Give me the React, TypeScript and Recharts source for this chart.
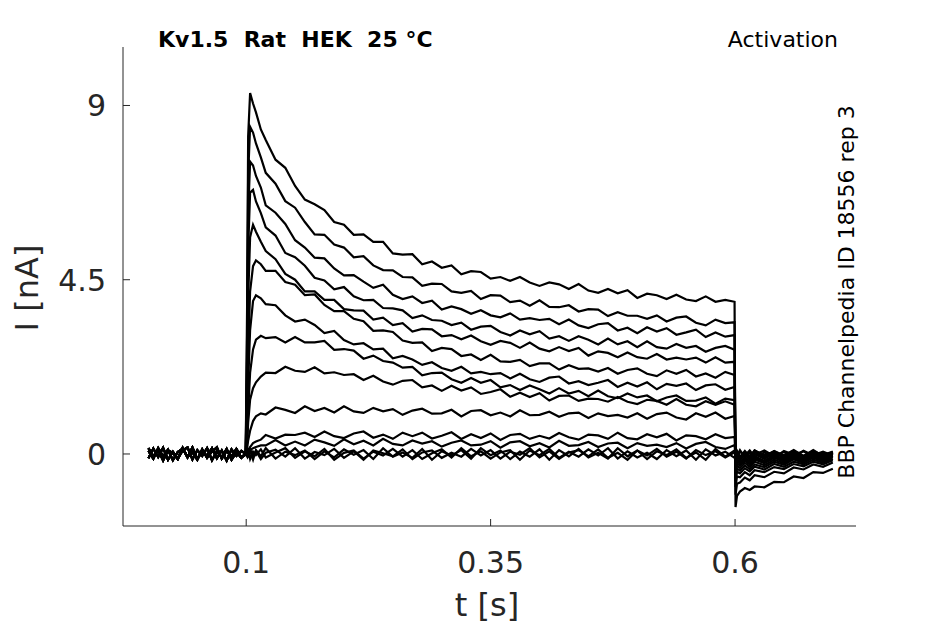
import { LineChart, Line, XAxis, YAxis } from 'recharts';

// time grids (s)
const preTimes = [0, 0.005, 0.01, 0.015, 0.02, 0.025, 0.03, 0.035, 0.04, 0.045, 0.05, 0.055, 0.06, 0.065, 0.07, 0.075, 0.08, 0.085, 0.09, 0.095, 0.0995];
const pulseTimes = [
  0.101, 0.102, 0.104, 0.107, 0.11, 0.115,
  0.12, 0.13, 0.14, 0.15, 0.16, 0.17, 0.18, 0.19, 0.2, 0.21,
  0.22, 0.23, 0.24, 0.25, 0.26, 0.27, 0.28, 0.29, 0.3, 0.31,
  0.32, 0.33, 0.34, 0.35, 0.36, 0.37, 0.38, 0.39, 0.4, 0.41,
  0.42, 0.43, 0.44, 0.45, 0.46, 0.47, 0.48, 0.49, 0.5, 0.51,
  0.52, 0.53, 0.54, 0.55, 0.56, 0.57, 0.58, 0.59, 0.5995,
];
const tailTimes = [0.6005, 0.602, 0.605, 0.61, 0.615, 0.62, 0.63, 0.64, 0.65, 0.66, 0.67, 0.68, 0.69, 0.7];

const xTicks = [0.1, 0.35, 0.6];
const yTicks = [0, 4.5, 9];

// holding current before the step (nA)
const preA = [0.08, -0.12, 0.15, -0.06, 0.11, -0.16, 0.05, 0.14, -0.09, 0.17, -0.13, 0.06, -0.04, 0.15, -0.11, 0.09, -0.17, 0.12, -0.05, 0.08, 0.0];
const preB = [-0.11, 0.14, -0.08, 0.16, -0.15, 0.06, -0.12, 0.09, 0.17, -0.14, 0.1, -0.05, 0.15, -0.16, 0.07, -0.09, 0.13, -0.15, 0.05, -0.1, 0.02];
const preC = [0.15, -0.06, 0.1, -0.17, 0.09, 0.03, -0.13, 0.16, -0.08, 0.05, -0.15, 0.12, -0.1, 0.06, 0.17, -0.12, 0.08, -0.06, 0.13, -0.09, -0.01];

// currents during the step (nA)
const pulse1 = [4.0, 8.2, 9.32, 9.05, 8.82, 8.38,
  8.11, 7.6, 7.39, 6.92, 6.57, 6.45, 6.3, 5.99, 5.92, 5.66, 5.67, 5.48, 5.48, 5.18, 5.15, 5.16, 4.9, 4.97, 4.81, 4.87,
  4.64, 4.72, 4.7, 4.53, 4.57, 4.47, 4.57, 4.43, 4.34, 4.43, 4.38, 4.26, 4.39, 4.22, 4.16, 4.26, 4.15, 4.23, 4.03, 4.14,
  4.1, 4.0, 4.11, 3.99, 3.95, 4.07, 3.93, 3.98, 3.93];
const pulse2 = [3.2, 7.2, 8.45, 8.3, 8.02, 7.66,
  7.26, 6.98, 6.53, 6.36, 5.99, 5.67, 5.66, 5.41, 5.33, 5.08, 5.11, 4.87, 4.75, 4.74, 4.57, 4.56, 4.34, 4.4, 4.39, 4.2,
  4.16, 4.21, 4.0, 4.1, 4.09, 3.92, 3.96, 3.83, 3.97, 3.8, 3.79, 3.84, 3.68, 3.74, 3.73, 3.56, 3.66, 3.57, 3.57, 3.49,
  3.58, 3.42, 3.52, 3.55, 3.39, 3.32, 3.47, 3.38, 3.4];
const pulse3 = [2.6, 6.2, 7.55, 7.45, 7.18, 6.88,
  6.42, 6.23, 5.94, 5.52, 5.33, 5.07, 5.05, 4.79, 4.61, 4.62, 4.45, 4.29, 4.37, 4.11, 4.0, 4.07, 3.9, 3.96, 3.73, 3.81,
  3.74, 3.62, 3.71, 3.58, 3.53, 3.63, 3.47, 3.51, 3.46, 3.49, 3.35, 3.47, 3.32, 3.25, 3.35, 3.38, 3.19, 3.26, 3.12, 3.27,
  3.16, 3.25, 3.08, 3.14, 3.21, 3.02, 3.14, 3.03, 3.07];
const pulse4 = [2.0, 5.3, 6.75, 6.82, 6.52, 6.22,
  5.85, 5.64, 5.19, 5.08, 4.86, 4.55, 4.48, 4.25, 4.31, 4.07, 3.97, 3.98, 3.77, 3.76, 3.71, 3.51, 3.58, 3.46, 3.44, 3.33,
  3.39, 3.21, 3.29, 3.31, 3.15, 3.06, 3.19, 3.09, 3.17, 2.98, 3.04, 2.92, 3.04, 2.95, 2.83, 2.98, 2.83, 2.91, 2.76, 2.91,
  2.76, 2.72, 2.84, 2.74, 2.79, 2.64, 2.74, 2.79, 2.69];
const pulse5 = [1.4, 4.0, 5.6, 5.92, 5.74, 5.48,
  5.24, 5.03, 4.65, 4.5, 4.2, 4.2, 3.98, 3.98, 3.74, 3.71, 3.7, 3.47, 3.52, 3.33, 3.38, 3.16, 3.23, 3.22, 3.04, 3.07,
  2.96, 3.06, 2.91, 2.82, 2.92, 2.87, 2.74, 2.88, 2.72, 2.65, 2.76, 2.66, 2.74, 2.54, 2.65, 2.61, 2.5, 2.62, 2.5, 2.46,
  2.58, 2.44, 2.49, 2.44, 2.49, 2.36, 2.5, 2.36, 2.38];
const pulse6 = [0.9, 2.6, 4.2, 4.85, 5.0, 4.9,
  4.73, 4.73, 4.44, 4.37, 4.1, 4.12, 3.85, 3.69, 3.69, 3.49, 3.43, 3.18, 3.19, 3.15, 2.93, 2.87, 2.88, 2.66, 2.74, 2.71,
  2.53, 2.57, 2.43, 2.56, 2.39, 2.38, 2.43, 2.27, 2.34, 2.34, 2.18, 2.29, 2.2, 2.21, 2.13, 2.22, 2.07, 2.17, 2.21, 2.07,
  2.01, 2.16, 2.07, 2.17, 2.0, 2.08, 1.97, 2.12, 2.04];
const pulse7 = [0.6, 1.8, 3.2, 3.95, 4.1, 4.02,
  3.87, 3.84, 3.58, 3.42, 3.47, 3.33, 3.12, 3.18, 2.94, 2.83, 2.86, 2.7, 2.72, 2.47, 2.53, 2.44, 2.3, 2.37, 2.22, 2.15,
  2.25, 2.08, 2.12, 2.06, 2.09, 1.95, 2.07, 1.93, 1.86, 1.97, 2.0, 1.82, 1.88, 1.78, 1.84, 1.91, 1.73, 1.84, 1.74, 1.85,
  1.67, 1.81, 1.76, 1.82, 1.65, 1.77, 1.8, 1.66, 1.73];
const pulse8 = [0.4, 1.1, 2.1, 2.7, 2.95, 3.05,
  2.99, 3.02, 2.88, 3.02, 2.88, 2.88, 2.92, 2.69, 2.71, 2.67, 2.46, 2.54, 2.4, 2.36, 2.23, 2.25, 2.03, 2.09, 2.1, 1.93,
  1.84, 1.96, 1.84, 1.91, 1.72, 1.78, 1.65, 1.77, 1.67, 1.56, 1.7, 1.56, 1.63, 1.49, 1.64, 1.49, 1.44, 1.56, 1.46, 1.51,
  1.36, 1.46, 1.51, 1.37, 1.38, 1.46, 1.3, 1.43, 1.39];
const pulse9 = [0.3, 0.8, 1.4, 1.7, 1.85, 2.0,
  2.1, 2.09, 2.25, 2.15, 2.12, 2.24, 2.08, 2.11, 2.04, 2.06, 1.91, 2.02, 1.87, 1.79, 1.89, 1.91, 1.72, 1.77, 1.63, 1.76,
  1.64, 1.72, 1.55, 1.6, 1.67, 1.48, 1.58, 1.47, 1.57, 1.38, 1.5, 1.51, 1.37, 1.43, 1.42, 1.35, 1.47, 1.35, 1.29, 1.4,
  1.37, 1.27, 1.42, 1.27, 1.23, 1.36, 1.27, 1.36, 1.27];
const pulse10 = [0.15, 0.35, 0.6, 0.85, 0.97, 1.05,
  1.02, 1.2, 1.14, 1.06, 1.23, 1.11, 1.19, 1.07, 1.23, 1.1, 1.06, 1.19, 1.1, 1.16, 1.01, 1.12, 1.17, 1.04, 1.05, 1.14,
  0.97, 1.11, 1.13, 1.0, 1.07, 0.97, 1.13, 1.0, 1.01, 1.09, 0.96, 1.05, 1.07, 0.93, 1.05, 0.98, 1.01, 0.94, 1.05, 0.91,
  1.03, 1.07, 0.94, 0.89, 1.05, 0.96, 1.07, 0.91, 0.98];
const pulse11 = [0.05, 0.1, 0.18, 0.28, 0.32, 0.37,
  0.49, 0.4, 0.5, 0.49, 0.55, 0.44, 0.58, 0.46, 0.41, 0.53, 0.58, 0.42, 0.5, 0.39, 0.55, 0.46, 0.55, 0.4, 0.47, 0.56,
  0.39, 0.51, 0.41, 0.53, 0.36, 0.49, 0.52, 0.39, 0.47, 0.4, 0.54, 0.43, 0.37, 0.5, 0.48, 0.39, 0.55, 0.41, 0.38, 0.51,
  0.43, 0.52, 0.35, 0.48, 0.46, 0.38, 0.51, 0.41, 0.44];
const pulse12 = [0.02, 0.05, 0.1, 0.15, 0.18, 0.22,
  0.22, 0.36, 0.22, 0.32, 0.22, 0.37, 0.3, 0.21, 0.38, 0.25, 0.34, 0.22, 0.39, 0.26, 0.22, 0.35, 0.27, 0.33, 0.19, 0.29,
  0.35, 0.22, 0.24, 0.33, 0.16, 0.3, 0.33, 0.2, 0.28, 0.17, 0.34, 0.21, 0.23, 0.31, 0.18, 0.27, 0.29, 0.15, 0.28, 0.21,
  0.24, 0.18, 0.28, 0.14, 0.26, 0.31, 0.18, 0.13, 0.23];
const pulseBase1 = [0.06, -0.09, 0.12, -0.04, 0.08, -0.13, 0.03, 0.11, -0.07, 0.15, -0.12, 0.05, -0.03, 0.13, -0.1, 0.07,
  -0.15, 0.09, 0.02, -0.06, 0.12, -0.13, 0.04, 0.09, -0.1, 0.03, -0.07, 0.13, -0.04, 0.1, -0.12, 0.06, -0.02, 0.15, -0.09,
  0.07, -0.13, 0.04, 0.1, -0.06, 0.12, -0.1, 0.03, -0.15, 0.09, -0.04, 0.13, -0.07, 0.06, -0.12, 0.1, -0.03, 0.07, -0.09, 0.04];
const pulseBase2 = [-0.07, 0.1, -0.13, 0.06, -0.03, 0.12, -0.09, 0.04, 0.15, -0.1, 0.07, -0.06, 0.13, -0.15, 0.03, 0.09,
  -0.12, 0.06, -0.04, 0.13, -0.07, 0.1, -0.13, 0.02, 0.12, -0.09, 0.15, -0.06, 0.07, -0.12, 0.04, 0.1, -0.15, 0.09, -0.03,
  0.13, -0.1, 0.06, -0.07, 0.12, -0.04, 0.15, -0.12, 0.07, -0.09, 0.03, -0.13, 0.1, -0.06, 0.09, -0.15, 0.12, -0.04, 0.06, -0.1];
const pulseBase3 = [0.13, -0.04, 0.07, -0.15, 0.1, -0.06, 0.15, -0.12, 0.06, -0.03, 0.09, -0.13, 0.07, -0.09, 0.12, -0.02,
  0.1, -0.13, 0.15, -0.07, 0.04, -0.1, 0.13, -0.15, 0.07, -0.04, 0.1, -0.12, 0.15, -0.03, 0.09, -0.13, 0.06, -0.07, 0.12,
  -0.15, 0.1, -0.06, 0.13, -0.09, 0.03, -0.12, 0.15, -0.06, 0.09, -0.13, 0.07, -0.03, 0.12, -0.1, 0.04, -0.15, 0.13, -0.07, 0.09];

// tail currents after the step (nA)
const tail1 = [-1.37, -1.08, -0.97, -0.88, -0.93, -0.84, -0.86, -0.72, -0.73, -0.58, -0.62, -0.47, -0.49, -0.38];
const tail2 = [-1.05, -0.77, -0.74, -0.61, -0.68, -0.55, -0.6, -0.46, -0.5, -0.35, -0.4, -0.27, -0.33, -0.22];
const tail3 = [-0.85, -0.58, -0.6, -0.47, -0.55, -0.42, -0.47, -0.34, -0.39, -0.26, -0.32, -0.2, -0.27, -0.16];
const tail4 = [-0.7, -0.46, -0.5, -0.37, -0.45, -0.33, -0.4, -0.26, -0.33, -0.2, -0.27, -0.15, -0.23, -0.12];
const tail5 = [-0.6, -0.38, -0.43, -0.3, -0.39, -0.27, -0.34, -0.2, -0.28, -0.14, -0.23, -0.1, -0.19, -0.08];
const tail6 = [-0.5, -0.3, -0.36, -0.23, -0.33, -0.2, -0.29, -0.15, -0.24, -0.11, -0.2, -0.07, -0.16, -0.05];
const tail7 = [-0.42, -0.24, -0.3, -0.17, -0.28, -0.14, -0.24, -0.1, -0.2, -0.07, -0.17, -0.04, -0.14, -0.03];
const tail8 = [-0.35, -0.18, -0.25, -0.12, -0.24, -0.1, -0.21, -0.06, -0.18, -0.03, -0.15, 0.0, -0.12, 0.01];
const tail9 = [-0.3, -0.13, -0.22, -0.08, -0.2, -0.06, -0.18, -0.02, -0.15, 0.01, -0.13, 0.02, -0.1, 0.03];
const tail10 = [-0.2, -0.06, -0.16, -0.02, -0.15, 0.0, -0.13, 0.03, -0.11, 0.04, -0.09, 0.05, -0.08, 0.04];
const tail11 = [-0.1, 0.02, -0.11, 0.05, -0.09, 0.06, -0.1, 0.07, -0.06, 0.08, -0.07, 0.06, -0.05, 0.05];
const tail12 = [-0.06, 0.06, -0.08, 0.08, -0.06, 0.09, -0.07, 0.08, -0.04, 0.1, -0.05, 0.07, -0.03, 0.06];
const tailBase1 = [0.07, -0.05, 0.1, -0.08, 0.04, -0.02, 0.09, -0.06, 0.05, -0.1, 0.08, -0.03, 0.06, -0.04];
const tailBase2 = [-0.04, 0.08, -0.07, 0.05, -0.1, 0.09, -0.03, 0.06, -0.08, 0.04, -0.05, 0.1, -0.06, 0.03];
const tailBase3 = [0.02, -0.09, 0.06, -0.04, 0.09, -0.07, 0.04, -0.1, 0.08, -0.02, 0.07, -0.08, 0.03, -0.05];

const sweeps = [
  [preA, pulse1, tail1], [preB, pulse2, tail2], [preC, pulse3, tail3],
  [preA, pulse4, tail4], [preB, pulse5, tail5], [preC, pulse6, tail6],
  [preA, pulse7, tail7], [preB, pulse8, tail8], [preC, pulse9, tail9],
  [preA, pulse10, tail10], [preB, pulse11, tail11], [preC, pulse12, tail12],
  [preB, pulseBase1, tailBase1], [preC, pulseBase2, tailBase2], [preA, pulseBase3, tailBase3],
];

const buildSweep = (pre: number[], pulse: number[], tail: number[]) => {
  const pts: { t: number; v: number }[] = [];
  preTimes.forEach((t, i) => pts.push({ t, v: pre[i] }));
  pulseTimes.forEach((t, i) => pts.push({ t, v: pulse[i] }));
  tailTimes.forEach((t, i) => pts.push({ t, v: tail[i] }));
  return pts.filter((p) => p.v !== undefined);
};

const font = 'DejaVu Sans';
const axisColor = '#262626';

const XTick = ({ x, y, payload }: any) => (
  <g>
    <line x1={x} x2={x} y1={y} y2={y - 7} stroke={axisColor} strokeWidth={1} />
    <text x={x} y={y + 47} textAnchor="middle" fontSize={30} fontFamily={font} fill={axisColor}>
      {String(payload.value)}
    </text>
  </g>
);

const YTick = ({ x, y, payload }: any) => (
  <g>
    <line x1={x} x2={x + 7} y1={y} y2={y} stroke={axisColor} strokeWidth={1} />
    <text x={x - 17} y={y + 11} textAnchor="end" fontSize={30} fontFamily={font} fill={axisColor}>
      {String(payload.value)}
    </text>
  </g>
);

export default function App() {
  return (
    <div style={{ position: 'absolute', left: 0, top: 0, width: 945, height: 624, background: '#fff' }}>
      <LineChart width={945} height={624} margin={{ top: 47, right: 89, bottom: 0, left: 0 }}>
        <XAxis
          type="number"
          dataKey="t"
          domain={[-0.026, 0.7237]}
          ticks={xTicks}
          interval={0}
          allowDataOverflow
          height={98}
          tickSize={0}
          tickMargin={0}
          tickLine={false}
          axisLine={{ stroke: axisColor, strokeWidth: 1 }}
          tick={(p: any) => <XTick {...p} />}
        />
        <YAxis
          type="number"
          dataKey="v"
          domain={[-1.86, 10.51]}
          ticks={yTicks}
          interval={0}
          allowDataOverflow
          width={123}
          tickSize={0}
          tickMargin={0}
          tickLine={false}
          axisLine={{ stroke: axisColor, strokeWidth: 1 }}
          tick={(p: any) => <YTick {...p} />}
        />
        {sweeps.map(([pre, pulse, tail], i) => (
          <Line
            key={`sweep-${i}`}
            data={buildSweep(pre, pulse, tail)}
            dataKey="v"
            type="linear"
            stroke="#000"
            strokeWidth={2.2}
            dot={false}
            activeDot={false}
            isAnimationActive={false}
          />
        ))}
      </LineChart>
      <svg width={945} height={624} style={{ position: 'absolute', left: 0, top: 0, pointerEvents: 'none' }}>
        <text x={158} y={47} fontSize={22} fontWeight="bold" fontFamily={font} fill="#000" style={{ whiteSpace: 'pre' }}>
          {'Kv1.5  Rat  HEK  25 °C'}
        </text>
        <text x={838} y={47} fontSize={22} fontFamily={font} fill="#000" textAnchor="end">
          Activation
        </text>
        <text
          x={854}
          y={292}
          fontSize={22}
          fontFamily={font}
          fill="#000"
          textAnchor="middle"
          transform="rotate(-90 854 292)"
        >
          BBP Channelpedia ID 18556 rep 3
        </text>
        <text
          x={38}
          y={288}
          fontSize={32}
          fontFamily={font}
          fill={axisColor}
          textAnchor="middle"
          transform="rotate(-90 38 288)"
        >
          I [nA]
        </text>
        <text x={487} y={616} fontSize={32} fontFamily={font} fill={axisColor} textAnchor="middle">
          t [s]
        </text>
      </svg>
    </div>
  );
}
